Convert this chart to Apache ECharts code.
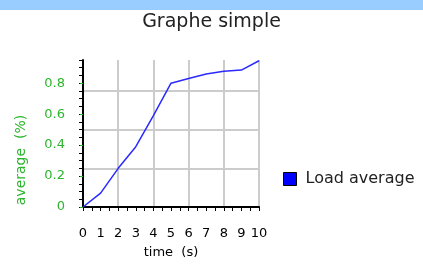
<!DOCTYPE html>
<html>
<head>
<meta charset="utf-8" />
<title>Graphe simple</title>
<script src="https://cdn.jsdelivr.net/npm/echarts@6/dist/echarts.min.js"></script>
<style>
  html, body { margin: 0; padding: 0; background: #fff; }
  #main { width: 423px; height: 264px; }
</style>
</head>
<body>
<div id="main"></div>
<script type="text/javascript">
/* données */
var times = [0, 1, 2, 3, 4, 5, 6, 7, 8, 9, 10];
var loadAverage = [0, 0.09, 0.25, 0.39, 0.59, 0.8, 0.83, 0.86, 0.877, 0.885, 0.945];
var seriesName = 'Load average';

var green = '#2db52d';
var font = 'DejaVu Sans';

var chart = echarts.init(document.getElementById('main'));

var points = times.map(function (t, i) { return [t, loadAverage[i]]; });

var option = {
    animation: false,
    textStyle: { fontFamily: font },
    graphic: [
        { type: 'rect', left: 0, top: 0, shape: { width: 423, height: 10 }, style: { fill: '#99ccff' } },
        {
            type: 'text', x: 21.5, y: 160, rotation: Math.PI / 2,
            style: { text: 'average  (%)', fill: green, font: '14px ' + font, align: 'center', verticalAlign: 'middle' }
        }
    ],
    title: {
        text: 'Graphe simple',
        left: 'center',
        top: 8,
        textStyle: { fontFamily: font, fontSize: 19, fontWeight: 'normal', color: '#222' }
    },
    legend: {
        left: 278,
        top: 166,
        icon: 'rect',
        itemWidth: 13,
        itemHeight: 13,
        itemGap: 6,
        textStyle: { fontFamily: font, fontSize: 16, color: '#222', padding: [0, 0, 0, 4] },
        itemStyle: { color: '#0000ff', borderColor: '#000', borderWidth: 1 },
        data: [seriesName]
    },
    grid: { left: 83, right: 164, top: 60, bottom: 57 },
    xAxis: [
        {
            type: 'value', min: 0, max: 10, interval: 1,
            name: 'time  (s)', nameLocation: 'middle', nameGap: 39,
            nameTextStyle: { fontFamily: font, fontSize: 13, color: '#000' },
            axisLine: { show: true, lineStyle: { color: '#000', width: 2 } },
            axisTick: { show: true, length: 4, lineStyle: { color: '#000' } },
            minorTick: { show: true, splitNumber: 2, length: 4, lineStyle: { color: '#000' } },
            axisLabel: { margin: 20, fontSize: 13, color: '#000', fontFamily: font },
            splitLine: { show: false }
        },
        {
            type: 'value', min: 0, max: 10, interval: 2,
            axisLine: { show: false }, axisTick: { show: false }, axisLabel: { show: false },
            splitLine: { show: true, showMinLine: false, lineStyle: { color: '#cccccc', width: 2 } }
        }
    ],
    yAxis: [
        {
            type: 'value', min: 0, max: 0.95, interval: 0.05,
            axisLine: { show: true, lineStyle: { color: '#000', width: 2 } },
            axisTick: { show: true, length: 4, lineStyle: { color: '#000' } },
            axisLabel: { show: false },
            splitLine: { show: false }
        },
        {
            type: 'value', min: 0, max: 0.95, interval: 0.2, position: 'left',
            axisLine: { show: false },
            axisTick: { show: true, length: 3, lineStyle: { color: green } },
            axisLabel: { margin: 18, fontSize: 13, color: green, fontFamily: font, showMaxLabel: false },
            splitLine: { show: false }
        },
        {
            type: 'value', min: 0, max: 0.95, interval: 0.25, position: 'left',
            axisLine: { show: false }, axisTick: { show: false }, axisLabel: { show: false },
            splitLine: { show: true, showMinLine: false, showMaxLine: false, lineStyle: { color: '#cccccc', width: 2 } }
        }
    ],
    series: [
        {
            name: seriesName,
            type: 'line',
            xAxisIndex: 0,
            yAxisIndex: 0,
            data: points,
            showSymbol: false,
            z: 5,
            lineStyle: { color: '#2a2aff', width: 1.5 },
            itemStyle: { color: '#0000ff' }
        }
    ]
};

chart.setOption(option);
window.onresize = chart.resize;
</script>
</body>
</html>
